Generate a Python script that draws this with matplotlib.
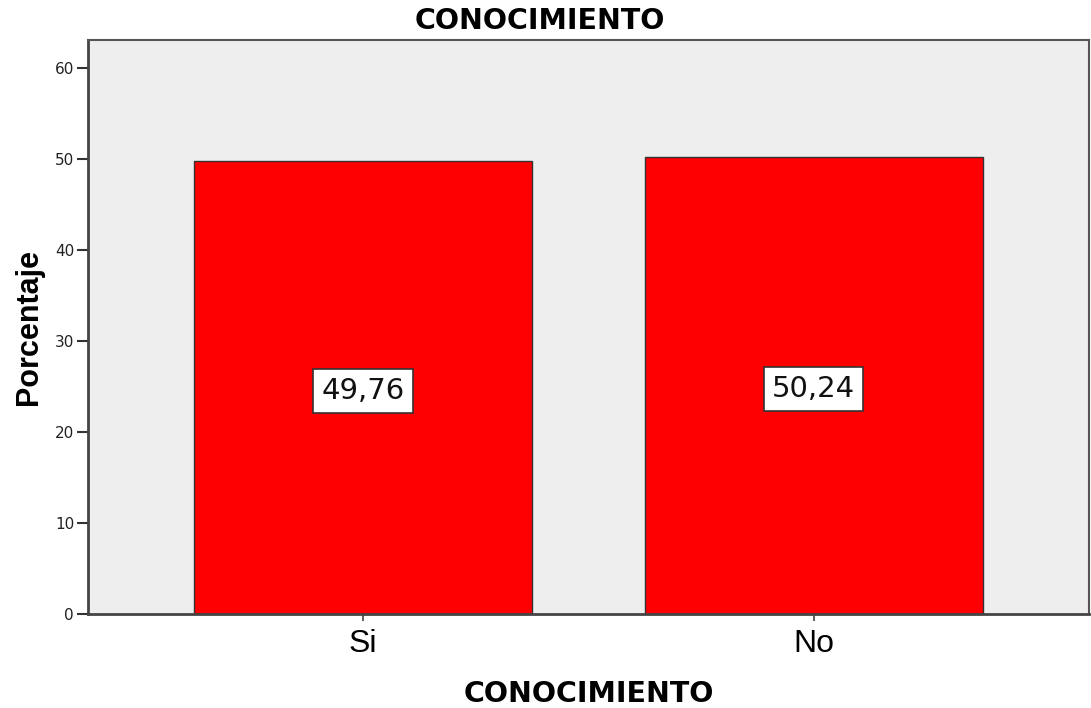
import matplotlib
matplotlib.use("Agg")
import matplotlib.pyplot as plt
from matplotlib import font_manager

categories = ["Si", "No"]
values = [49.76, 50.24]
labels = ["49,76", "50,24"]
yticks = [0, 10, 20, 30, 40, 50, 60]

plt.rcParams['font.family'] = ['Liberation Sans', 'DejaVu Sans']

names = {f.name for f in font_manager.fontManager.ttflist}
narrow = 'Liberation Sans Narrow' if 'Liberation Sans Narrow' in names else 'Liberation Sans'

fig = plt.figure(figsize=(10.91, 7.08), dpi=100)
ax = fig.add_axes([88/1091, 94/708, 1001/1091, 574/708])
ax.set_facecolor('#eeeeee')

x = range(len(categories))
ax.bar(x, values, width=0.75, color='#ff0000', edgecolor='#333333', linewidth=1.0, zorder=2)
for xi, v, lab in zip(x, values, labels):
    ax.text(xi, v / 2 - 0.4, lab, ha='center', va='center', fontsize=21, color='#111111',
            family='DejaVu Sans',
            bbox=dict(boxstyle='square,pad=0.28', facecolor='white', edgecolor='#333333', linewidth=1.2), zorder=3)

ax.set_xlim(-0.611, 1.611)
ax.set_ylim(0, 63.1)
ax.set_yticks(yticks)
ax.set_xticks(list(x))
ax.set_xticklabels(categories, fontsize=23)
ax.tick_params(axis='x', length=5, width=1.2, color='#444444', pad=6)
ax.tick_params(axis='y', length=8, width=1.5, color='#333333', pad=2)
for t in ax.get_yticklabels():
    t.set_fontfamily('DejaVu Sans')
    t.set_fontsize(11)
    t.set_color('#222222')

for s in ['left', 'bottom']:
    ax.spines[s].set_color('#444444')
    ax.spines[s].set_linewidth(2)
for s in ['top', 'right']:
    ax.spines[s].set_color('#555555')
    ax.spines[s].set_linewidth(1.5)

ax.set_ylabel('Porcentaje', fontsize=22, fontweight='bold', family=narrow, labelpad=8)
ax.set_xlabel('CONOCIMIENTO', fontsize=20.5, fontweight='bold', family='DejaVu Sans', labelpad=15)
ax.set_title('CONOCIMIENTO', fontsize=20.5, fontweight='bold', family='DejaVu Sans', pad=8, x=0.4515)

fig.savefig('out.png', dpi=100)
